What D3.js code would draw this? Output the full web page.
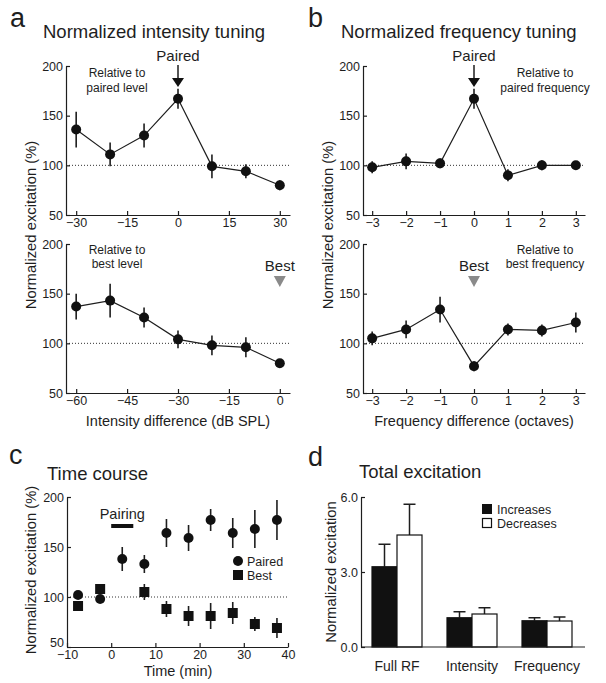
<!DOCTYPE html>
<html>
<head>
<meta charset="utf-8">
<script src="https://cdn.jsdelivr.net/npm/d3@7"></script>
<style>
body { margin: 0; background: white; }
svg text { font-family: "Liberation Sans", Arial, Helvetica, sans-serif; fill: #1e1e1e; }
</style>
</head>
<body>
<div class="mainVis"></div>
<script>
// panel a: intensity tuning
var intensityPairedX = [-30, -20, -10, 0, 10, 20, 30];
var intensityPairedY = [136, 111, 130, 167, 99, 94, 80];
var intensityPairedErr = [18, 12, 12, 10, 12, 7, 5];
var intensityBestX = [-60, -50, -40, -30, -20, -10, 0];
var intensityBestY = [137, 143, 126, 104, 98, 96, 80];
var intensityBestErr = [13, 17, 10, 9, 10, 10, 4];
var intensityPairedTicks = [-30, -15, 0, 15, 30];
var intensityBestTicks = [-60, -45, -30, -15, 0];

// panel b: frequency tuning
var freqX = [-3, -2, -1, 0, 1, 2, 3];
var freqPairedY = [98, 104, 102, 167, 90, 100, 100];
var freqPairedErr = [6, 8, 5, 10, 6, 5, 3];
var freqBestY = [105, 114, 134, 77, 114, 113, 121];
var freqBestErr = [7, 9, 13, 5, 6, 6, 10];
var freqTicks = [-3, -2, -1, 0, 1, 2, 3];

var percentTicks = [50, 100, 150, 200];

// panel c: time course
var timePairedX = [-7.5, -2.5, 2.5, 7.5, 12.5, 17.5, 22.5, 27.5, 32.5, 37.5];
var timePairedY = [102, 98, 138, 133, 164, 159, 177, 164, 168, 177];
var timePairedErr = [2, 2, 12, 9, 14, 13, 11, 15, 19, 20];
var timeBestX = [-7.5, -2.5, 7.5, 12.5, 17.5, 22.5, 27.5, 32.5, 37.5];
var timeBestY = [91, 108, 105, 88, 81, 81, 84, 73, 69];
var timeBestErr = [2, 2, 8, 8, 10, 13, 11, 7, 10];
var timeTicks = [-10, 0, 10, 20, 30, 40];
var pairingWindow = [0, 5];

// panel d: total excitation
var totalCategories = ["Full RF", "Intensity", "Frequency"];
var totalIncreases = [3.21, 1.17, 1.05];
var totalIncreasesErr = [0.9, 0.24, 0.12];
var totalDecreases = [4.48, 1.32, 1.04];
var totalDecreasesErr = [1.23, 0.25, 0.16];
var totalTicks = [0, 3, 6];

var width = 606, height = 683;
var ink = "#1e1e1e";
var intFmt = d3.format("d");

var canvas = d3.select(".mainVis")
    .append("svg")
    .attr("width", width)
    .attr("height", height);

canvas.append("rect")
    .attr("width", width)
    .attr("height", height)
    .attr("fill", "white");

function label(x, y, txt, size, anchor) {
    return canvas.append("text")
        .attr("x", x)
        .attr("y", y)
        .attr("font-size", size)
        .attr("text-anchor", anchor || "start")
        .text(txt);
}

function yLabel(x, y, txt) {
    canvas.append("text")
        .attr("transform", "translate(" + x + "," + y + ") rotate(-90)")
        .attr("text-anchor", "middle")
        .attr("font-size", 14.8)
        .text(txt);
}

function drawAxes(x, y, xTicks, yTicks) {
    var xAxis = d3.axisBottom(x).tickValues(xTicks).tickFormat(intFmt)
        .tickSizeInner(-4).tickSizeOuter(0).tickPadding(4);
    var yAxis = d3.axisLeft(y).tickValues(yTicks).tickFormat(intFmt)
        .tickSizeInner(-4).tickSizeOuter(0).tickPadding(3);

    var gx = canvas.append("g")
        .attr("transform", "translate(0," + y.range()[0] + ")")
        .call(xAxis);
    var gy = canvas.append("g")
        .attr("transform", "translate(" + x.range()[0] + ",0)")
        .call(yAxis);
    [gx, gy].forEach(function(g) {
        g.attr("font-size", 12.5).attr("font-family", null);
        g.selectAll("path, line").attr("stroke", ink).attr("stroke-width", 1.2);
    });
    gx.selectAll("text").attr("dy", "0.62em");
    return gy;
}

function refLine(x, y) {
    canvas.append("line")
        .attr("x1", x.range()[0])
        .attr("x2", x.range()[1])
        .attr("y1", y(100))
        .attr("y2", y(100))
        .attr("stroke", "#333")
        .attr("stroke-width", 1)
        .attr("stroke-dasharray", "1,2");
}

function errBars(x, y, xs, ys, errs) {
    canvas.append("g").selectAll("line")
        .data(xs)
        .enter()
        .append("line")
        .attr("x1", function(d) { return x(d); })
        .attr("x2", function(d) { return x(d); })
        .attr("y1", function(d, i) { return y(ys[i] - errs[i]); })
        .attr("y2", function(d, i) { return y(ys[i] + errs[i]); })
        .attr("stroke", ink)
        .attr("stroke-width", 1.6);
}

function tuningCurve(x, y, xs, ys, errs) {
    var pts = xs.map(function(d, i) { return [d, ys[i]]; });
    var line = d3.line()
        .x(function(d) { return x(d[0]); })
        .y(function(d) { return y(d[1]); });
    canvas.append("path")
        .attr("d", line(pts))
        .attr("fill", "none")
        .attr("stroke", ink)
        .attr("stroke-width", 1.2);
    errBars(x, y, xs, ys, errs);
    canvas.append("g").selectAll("circle")
        .data(pts)
        .enter()
        .append("circle")
        .attr("cx", function(d) { return x(d[0]); })
        .attr("cy", function(d) { return y(d[1]); })
        .attr("r", 5)
        .attr("fill", "#111");
}

function pairedArrow(xpos) {
    label(xpos, 61, "Paired", 15, "middle");
    canvas.append("line")
        .attr("x1", xpos).attr("x2", xpos)
        .attr("y1", 65).attr("y2", 79)
        .attr("stroke", ink).attr("stroke-width", 1.5);
    canvas.append("path")
        .attr("d", "M" + (xpos - 6) + ",78 L" + (xpos + 6) + ",78 L" + xpos + ",87 Z")
        .attr("fill", "#111");
}

function bestArrow(xpos) {
    label(xpos, 271, "Best", 15, "middle");
    canvas.append("path")
        .attr("d", "M" + (xpos - 6) + ",276 L" + (xpos + 6) + ",276 L" + xpos + ",287 Z")
        .attr("fill", "#8a8a8a");
}

// ---------- panel a ----------
var xIntTop = d3.scaleLinear().domain([-33, 33]).range([66, 290]);
var yTop = d3.scaleLinear().domain([50, 200]).range([215, 66]);
var xIntBot = d3.scaleLinear().domain([-63, 3]).range([66, 290]);
var yBot = d3.scaleLinear().domain([50, 200]).range([393, 244]);

label(10, 27, "a", 27);
label(43, 38, "Normalized intensity tuning", 18.5);

refLine(xIntTop, yTop);
drawAxes(xIntTop, yTop, intensityPairedTicks, percentTicks);
tuningCurve(xIntTop, yTop, intensityPairedX, intensityPairedY, intensityPairedErr);
pairedArrow(xIntTop(0));
label(117, 77, "Relative to", 12, "middle");
label(117, 92, "paired level", 12, "middle");

refLine(xIntBot, yBot);
drawAxes(xIntBot, yBot, intensityBestTicks, percentTicks);
tuningCurve(xIntBot, yBot, intensityBestX, intensityBestY, intensityBestErr);
bestArrow(xIntBot(0));
label(117, 254, "Relative to", 12, "middle");
label(117, 268, "best level", 12, "middle");

label(178, 426, "Intensity difference (dB SPL)", 14.5, "middle");
yLabel(36, 225, "Normalized excitation (%)");

// ---------- panel b ----------
var xFreq = d3.scaleLinear().domain([-3.27, 3.27]).range([363, 585]);

label(308, 27, "b", 27);
label(341, 38, "Normalized frequency tuning", 18.5);

refLine(xFreq, yTop);
drawAxes(xFreq, yTop, freqTicks, percentTicks);
tuningCurve(xFreq, yTop, freqX, freqPairedY, freqPairedErr);
pairedArrow(xFreq(0));
label(545, 77, "Relative to", 12, "middle");
label(545, 92, "paired frequency", 12, "middle");

refLine(xFreq, yBot);
drawAxes(xFreq, yBot, freqTicks, percentTicks);
tuningCurve(xFreq, yBot, freqX, freqBestY, freqBestErr);
bestArrow(xFreq(0));
label(545, 254, "Relative to", 12, "middle");
label(545, 268, "best frequency", 12, "middle");

label(474, 426, "Frequency difference (octaves)", 14.5, "middle");
yLabel(333, 225, "Normalized excitation (%)");

// ---------- panel c ----------
var xTime = d3.scaleLinear().domain([-10, 40]).range([67, 288]);
var yTime = d3.scaleLinear().domain([50, 200]).range([647, 497]);

label(9, 464, "c", 27);
label(47, 480, "Time course", 18.5);

refLine(xTime, yTime);
var cAxis = drawAxes(xTime, yTime, timeTicks, percentTicks);
// the 50 label sits just above the -10 label, as in the figure
cAxis.selectAll("text").filter(function(d) { return d === 50; }).attr("dy", "-0.05em");

canvas.append("rect")
    .attr("x", xTime(pairingWindow[0]))
    .attr("y", 524)
    .attr("width", xTime(pairingWindow[1]) - xTime(pairingWindow[0]))
    .attr("height", 4)
    .attr("fill", "#111");
label(xTime((pairingWindow[0] + pairingWindow[1]) / 2), 519, "Pairing", 14.5, "middle");

errBars(xTime, yTime, timePairedX, timePairedY, timePairedErr);
errBars(xTime, yTime, timeBestX, timeBestY, timeBestErr);

canvas.append("g").selectAll("circle")
    .data(timePairedX)
    .enter()
    .append("circle")
    .attr("cx", function(d) { return xTime(d); })
    .attr("cy", function(d, i) { return yTime(timePairedY[i]); })
    .attr("r", 5)
    .attr("fill", "#111");

canvas.append("g").selectAll("rect")
    .data(timeBestX)
    .enter()
    .append("rect")
    .attr("x", function(d) { return xTime(d) - 5; })
    .attr("y", function(d, i) { return yTime(timeBestY[i]) - 5; })
    .attr("width", 10)
    .attr("height", 10)
    .attr("fill", "#111");

canvas.append("circle").attr("cx", 238).attr("cy", 561).attr("r", 5).attr("fill", "#111");
label(247, 565.5, "Paired", 12.5);
canvas.append("rect").attr("x", 233).attr("y", 570).attr("width", 10).attr("height", 10).attr("fill", "#111");
label(247, 580, "Best", 12.5);

label(178, 676, "Time (min)", 14.5, "middle");
yLabel(36, 570, "Normalized excitation (%)");

// ---------- panel d ----------
var xTotal = d3.scalePoint().domain(totalCategories).range([359.5, 584.5]).padding(0.5);
var xInner = d3.scaleBand().domain(["inc", "dec"]).range([-25, 25]);
var yTotal = d3.scaleLinear().domain([0, 6]).range([647, 497]);

label(308, 466, "d", 27);
label(359, 478, "Total excitation", 18.5);

var dAxis = canvas.append("g")
    .attr("transform", "translate(361,0)")
    .call(d3.axisLeft(yTotal).tickValues(totalTicks).tickFormat(d3.format(".1f"))
        .tickSizeInner(-4).tickSizeOuter(0).tickPadding(3));
dAxis.attr("font-size", 12.5).attr("font-family", null);
dAxis.selectAll("path, line").attr("stroke", ink).attr("stroke-width", 1.2);

var groups = [
    { key: "inc", vals: totalIncreases, errs: totalIncreasesErr, fill: "#111" },
    { key: "dec", vals: totalDecreases, errs: totalDecreasesErr, fill: "white" }
];

groups.forEach(function(s) {
    var g = canvas.append("g");
    var bx = function(d, i) { return xTotal(totalCategories[i]) + xInner(s.key); };
    var cx = function(d, i) { return bx(d, i) + xInner.bandwidth() / 2; };
    g.selectAll("line.err")
        .data(s.vals)
        .enter()
        .append("line")
        .attr("x1", cx).attr("x2", cx)
        .attr("y1", function(d) { return yTotal(d); })
        .attr("y2", function(d, i) { return yTotal(d + s.errs[i]); })
        .attr("stroke", ink).attr("stroke-width", 1.5);
    g.selectAll("line.cap")
        .data(s.vals)
        .enter()
        .append("line")
        .attr("x1", function(d, i) { return cx(d, i) - 6; })
        .attr("x2", function(d, i) { return cx(d, i) + 6; })
        .attr("y1", function(d, i) { return yTotal(d + s.errs[i]); })
        .attr("y2", function(d, i) { return yTotal(d + s.errs[i]); })
        .attr("stroke", ink).attr("stroke-width", 1.5);
    g.selectAll("rect")
        .data(s.vals)
        .enter()
        .append("rect")
        .attr("x", bx)
        .attr("y", function(d) { return yTotal(d); })
        .attr("width", xInner.bandwidth())
        .attr("height", function(d) { return yTotal(0) - yTotal(d); })
        .attr("fill", s.fill)
        .attr("stroke", "#111")
        .attr("stroke-width", 1.2);
});

canvas.append("line")
    .attr("x1", 361).attr("x2", 585)
    .attr("y1", yTotal(0)).attr("y2", yTotal(0))
    .attr("stroke", ink).attr("stroke-width", 1.2);

canvas.selectAll("text.cat")
    .data(totalCategories)
    .enter()
    .append("text")
    .attr("class", "cat")
    .attr("x", function(d) { return xTotal(d); })
    .attr("y", 671)
    .attr("text-anchor", "middle")
    .attr("font-size", 14)
    .text(function(d) { return d; });

canvas.append("rect").attr("x", 482).attr("y", 504).attr("width", 10).attr("height", 10).attr("fill", "#111");
label(497, 513.5, "Increases", 12.5);
canvas.append("rect").attr("x", 482.5).attr("y", 518.5).attr("width", 9).attr("height", 9)
    .attr("fill", "white").attr("stroke", "#111").attr("stroke-width", 1.2);
label(497, 528, "Decreases", 12.5);

yLabel(336, 572, "Normalized excitation");
</script>
</body>
</html>
